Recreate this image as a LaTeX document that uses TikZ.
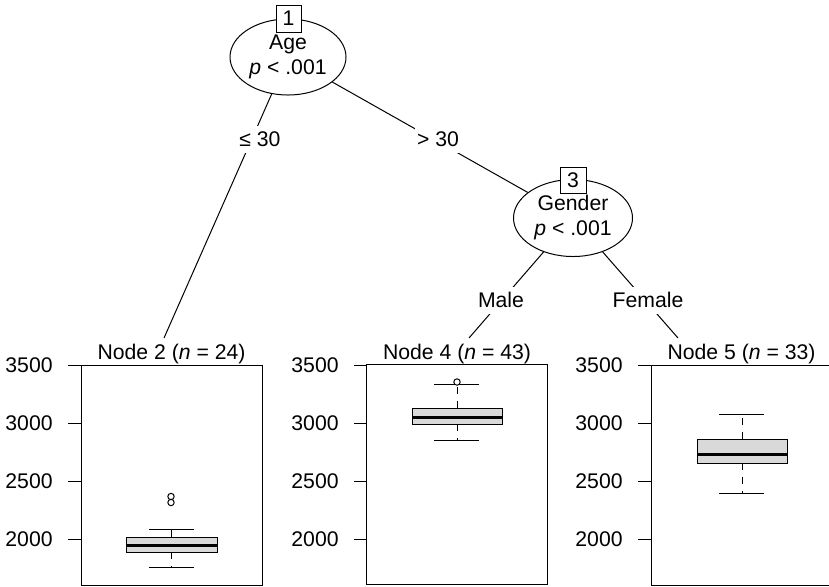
\documentclass[tikz,border=0pt]{standalone}
\usepackage{fontspec}
\setmainfont{Liberation Sans}
\usetikzlibrary{positioning,shapes.geometric}

\begin{document}
\begin{tikzpicture}[
  x=0.5pt, y=-0.5pt,
  font=\fontsize{10.6}{12.5}\selectfont,
  split/.style={ellipse, draw=black, fill=white, line width=0.5pt, align=center, inner sep=0pt},
  idbox/.style={draw=black, fill=white, line width=0.5pt, inner sep=0pt, minimum width=12.5pt, minimum height=13.5pt},
  edgelbl/.style={fill=white, inner xsep=1pt, inner ysep=3pt, text height=7.5pt, text depth=0pt},
  panel/.style={draw=black, line width=0.5pt, minimum width=90.5pt, minimum height=110pt, inner sep=0pt},
  ttl/.style={inner sep=0pt},
  edge/.style={line width=0.5pt},
  bx/.style={draw=black, fill=black!15, line width=0.5pt},
  med/.style={line width=1.5pt},
  whisk/.style={line width=0.5pt, dash pattern=on 3.5pt off 3.5pt},
  outl/.style={draw=black, fill=white, line width=0.5pt}
]
\useasboundingbox (0,0) rectangle (829,586);

% inner nodes
\node[split, minimum width=58pt, minimum height=38pt] (n1) at (288,57) {Age\\\textit{p} < .001};
\node[split, minimum width=59.5pt, minimum height=38.5pt] (n3) at (573,218) {Gender\\\textit{p} < .001};
\node[idbox] (id1) at (288.5,18.5) {1};
\node[idbox, minimum width=13pt, minimum height=13pt] (id3) at (573,180) {3};

% terminal panels
\node[panel] (p2) at (171.5,475) {};
\node[panel] (p4) at (457,474.5) {};
\node[panel] (p5) at (741.5,475) {};
\node[ttl, above=0pt of p2] (t2) {Node 2 (\textit{n} = 24)};
\node[ttl, above=0pt of p4] (t4) {Node 4 (\textit{n} = 43)};
\node[ttl, above=0pt of p5] (t5) {Node 5 (\textit{n} = 33)};
\coordinate (e2) at (164,338);
\coordinate (e4) at (469,338);
\coordinate (e5) at (678,338);

% edges
\draw[edge] (n1) -- (e2);
\draw[edge] (n1) -- (n3);
\draw[edge] (n3) -- (e4);
\draw[edge] (n3) -- (e5);
\node[edgelbl] (l12) at (260,139) {≤ 30};
\node[edgelbl] (l13) at (438,139) {> 30};
\node[edgelbl] (l34) at (501,300) {Male};
\node[edgelbl] (l35) at (648,300) {Female};

% y axes
\foreach \px/\pn in {81/2,367/4,651/5}
  \foreach \yy/\v in {365/3500,423/3000,481/2500,539/2000}{
    \draw[edge] (\px-13,\yy) -- (\px,\yy);
    \node[anchor=east, inner sep=0pt] (ax\pn-\v) at (\px-28,\yy) {\v};
  }

% Node 2 boxplot
\draw[whisk] (171.5,537) -- (171.5,529);
\draw[whisk] (171.5,552) -- (171.5,567);
\draw[edge] (149,529) -- (194,529);
\draw[edge] (149,567) -- (194,567);
\draw[bx] (126,537) rectangle (217,552);
\draw[med] (126,545) -- (217,545);
\draw[outl] (171,496.5) circle[radius=1.6pt];
\draw[outl] (171,502.5) circle[radius=1.6pt];

% Node 4 boxplot
\draw[whisk] (457,408) -- (457,384);
\draw[whisk] (457,424) -- (457,440);
\draw[edge] (434,384) -- (479,384);
\draw[edge] (434,440) -- (479,440);
\draw[bx] (412,408) rectangle (502,424);
\draw[med] (412,417) -- (502,417);
\draw[outl] (457,382) circle[radius=1.6pt];

% Node 5 boxplot
\draw[whisk] (742,439) -- (742,414);
\draw[whisk] (742,463) -- (742,493);
\draw[edge] (719,414) -- (764,414);
\draw[edge] (719,493) -- (764,493);
\draw[bx] (697,439) rectangle (787,463);
\draw[med] (697,454) -- (787,454);
\end{tikzpicture}
\end{document}
